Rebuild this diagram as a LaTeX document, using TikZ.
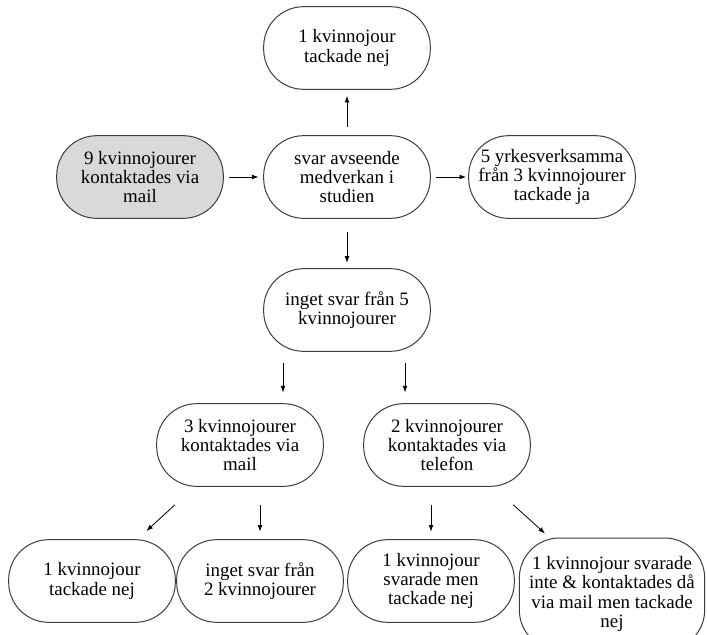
\documentclass[tikz,border=0pt]{standalone}
\usepackage{fontspec}
\setmainfont{LiberationSerif}[Extension=.ttf, UprightFont=*-Regular, BoldFont=*-Bold, ItalicFont=*-Italic]
\usetikzlibrary{arrows.meta}

\tikzset{every picture/.style={line width=0.75pt}}
\tikzset{
  pill/.style={draw={rgb, 255:red, 60; green, 60; blue, 60 }, rounded corners=30pt, minimum width=125pt, minimum height=62pt, align=center, inner sep=2pt, font=\rmfamily\fontsize{14.2}{14.4}\selectfont},
  pillgray/.style={pill, fill={rgb, 255:red, 217; green, 217; blue, 217 }},
  arr/.style={-{Latex[length=5pt,width=3.6pt]}, line width=0.6pt},
}

\begin{document}
\begin{tikzpicture}[x=0.75pt,y=0.75pt,yscale=-1,xscale=1]
	\clip (0,0) rectangle (707,635);

	% Text Node
	\node[pill] (tackade) at (347,48) {1 kvinnojour\\tackade nej};
	% Text Node
	\node[pillgray] (kontakt) at (140,177) {9 kvinnojourer\\kontaktades via\\mail};
	% Text Node
	\node[pill] (svar) at (347,177) {svar avseende\\medverkan i\\studien};
	% Text Node
	\node[pill] (ja) at (552,177) {5 yrkesverksamma\\från 3 kvinnojourer\\tackade ja};
	% Text Node
	\node[pill] (inget5) at (347,310) {inget svar från 5\\kvinnojourer};
	% Text Node
	\node[pill] (mail) at (240,445) {3 kvinnojourer\\kontaktades via\\mail};
	% Text Node
	\node[pill] (telefon) at (447,445) {2 kvinnojourer\\kontaktades via\\telefon};
	% Text Node
	\node[pill] (nej1) at (92,581) {1 kvinnojour\\tackade nej};
	% Text Node
	\node[pill] (inget2) at (260,581) {inget svar från\\2 kvinnojourer};
	% Text Node
	\node[pill] (svarnej) at (431,581) {1 kvinnojour\\svarade men\\tackade nej};
	% Text Node
	\node[pill, minimum width=139pt, minimum height=84pt] (mailnej) at (612,594) {1 kvinnojour svarade\\inte \& kontaktades då\\via mail men tackade\\nej};

	%Straight Lines
	\draw[arr, shorten <=6.4pt, shorten >=4.5pt] (svar) -- (tackade);
	\draw[arr, shorten <=3.8pt, shorten >=3.4pt] (kontakt) -- (svar);
	\draw[arr, shorten <=4pt, shorten >=1.5pt] (svar) -- (ja);
	\draw[arr, shorten <=10pt, shorten >=4pt] (svar) -- (inget5);
	%Straight Lines
	\draw[arr, shorten <=8pt, shorten >=8pt] ([xshift=-48pt]inget5.south) -- ([xshift=-48pt]inget5.south |- mail.north);
	\draw[arr, shorten <=8pt, shorten >=8pt] ([xshift=43.5pt]inget5.south) -- ([xshift=43.5pt]inget5.south |- telefon.north);
	%Straight Lines
	\draw[arr, shorten <=20pt, shorten >=9pt] (mail) -- (nej1);
	\draw[arr, shorten <=13.9pt, shorten >=5.6pt] (inget2.north |- mail.south) -- (inget2.north);
	\draw[arr, shorten <=13.9pt, shorten >=5.6pt] (svarnej.north |- telefon.south) -- (svarnej.north);
	\draw[arr, shorten <=20pt, shorten >=4.5pt] (telefon) -- (mailnej);

\end{tikzpicture}
\end{document}
